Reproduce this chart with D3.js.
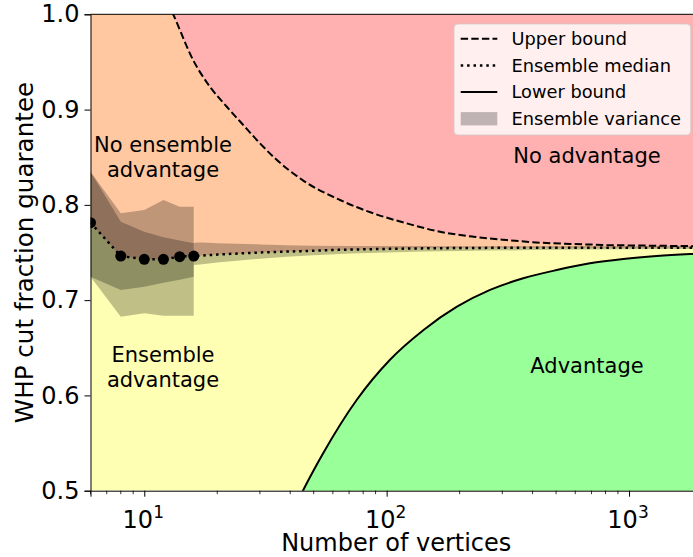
<!DOCTYPE html>
<html>
<head>
<meta charset="utf-8">
<script src="https://cdn.jsdelivr.net/npm/d3@7"></script>
<style>
  body { margin: 0; background: #fff; }
  svg { display: block; font-family: "DejaVu Sans", sans-serif; }
</style>
</head>
<body>
<svg id="chart" width="693" height="557"></svg>
<script>
// ---- sampled ensembles (graph sizes 6..16) ----
const ensembleN       = [6, 8, 10, 12, 14, 16];
const ensembleMedian  = [0.7813, 0.7463, 0.7429, 0.7429, 0.7456, 0.7463];
const ensembleMax     = [0.8348, 0.7911, 0.7946, 0.8051, 0.7981, 0.7981];
const ensembleMin     = [0.7246, 0.6826, 0.6862, 0.6837, 0.6837, 0.6837];
const ensembleSpreadHi = [0.8348, 0.7823, 0.7718, 0.7660, 0.7625, 0.7597];
const ensembleSpreadLo = [0.7246, 0.7106, 0.7141, 0.7183, 0.7215, 0.7246];

// ---- extrapolated ensemble trend for larger graphs ----
const trendN       = [16, 20, 30, 45, 60, 100, 180, 400, 1000, 2000];
const trendMedian  = [0.7463, 0.7478, 0.7500, 0.7515, 0.7526, 0.7538, 0.7546, 0.7550, 0.7551, 0.7551];
const trendBandN   = [16, 17, 20, 30, 50, 100, 200, 500, 1000, 2000];
const trendBandHi  = [0.7600, 0.7604, 0.7598, 0.7585, 0.7572, 0.7568, 0.7566, 0.7565, 0.7565, 0.7565];
const trendBandLo  = [0.7370, 0.7375, 0.7395, 0.7435, 0.7472, 0.7500, 0.7515, 0.7528, 0.7535, 0.7538];

// ---- analytic guarantees ----
const upperN   = [12, 13.16, 15.9, 18.65, 21.9, 25.6, 30.0, 34.6, 45, 64.2, 88.1, 120.9, 166, 227.8, 312.8, 429, 589, 809, 1523, 2000];
const upperVal = [1.022, 1.0, 0.952, 0.924, 0.903, 0.8838, 0.8646, 0.8489, 0.826, 0.8051, 0.7911, 0.7806, 0.7718, 0.7666, 0.7631, 0.7603, 0.7589, 0.7579, 0.7569, 0.7566];
const lowerN   = [40, 45.3, 54.7, 75.2, 103, 142, 195, 267, 366, 503, 690, 947, 1300, 1785, 2000];
const lowerVal = [0.472, 0.5007, 0.5393, 0.5952, 0.6372, 0.6687, 0.6931, 0.7107, 0.7229, 0.7316, 0.7387, 0.7432, 0.7463, 0.7484, 0.7490];

// ---- axes ----
const xMajor = [10, 100, 1000];
const xMajorExp = ["1", "2", "3"];
const xMinor = [6, 7, 8, 9, 20, 30, 40, 50, 60, 70, 80, 90, 200, 300, 400, 500, 600, 700, 800, 900, 2000];
const yTicks = [0.5, 0.6, 0.7, 0.8, 0.9, 1.0];

const legendItems = ["Upper bound", "Ensemble median", "Lower bound", "Ensemble variance"];

const P = { left: 90.5, top: 14.3, right: 702, bottom: 490.7 };
const x = d3.scaleLog().domain([6, 2000]).range([P.left, P.right]);
const y = d3.scaleLinear().domain([0.5, 1.0]).range([P.bottom, P.top]);

const svg = d3.select("#chart");
svg.append("defs").append("clipPath").attr("id", "plotClip")
  .append("rect").attr("x", P.left).attr("y", P.top)
  .attr("width", P.right - P.left).attr("height", P.bottom - P.top);

const plot = svg.append("g").attr("clip-path", "url(#plotClip)");

const zip = (xs, ys) => xs.map((n, i) => [n, ys[i]]);
const lineLin = d3.line().x(d => x(d[0])).y(d => y(d[1]));
const lineMono = d3.line().x(d => x(d[0])).y(d => y(d[1])).curve(d3.curveMonotoneX);

const medianData = zip(ensembleN, ensembleMedian);
const medianTrend = zip(trendN, trendMedian);
const medianPath = lineLin(medianData) + "L" + lineMono(medianTrend).slice(1);

// background regions
plot.append("rect")
  .attr("x", P.left).attr("y", P.top)
  .attr("width", P.right - P.left).attr("height", P.bottom - P.top)
  .attr("fill", "#ffffb3");

// above the ensemble median: no ensemble advantage
plot.append("path")
  .attr("d", medianPath + `L${P.right},${P.top - 5}L${P.left},${P.top - 5}Z`)
  .attr("fill", "#ffc8a0");

// above the upper bound: no advantage
const upper = zip(upperN, upperVal);
plot.append("path")
  .attr("d", d3.area().x(d => x(d[0])).y0(P.top - 5).y1(d => y(d[1])).curve(d3.curveMonotoneX)(upper))
  .attr("fill", "#ffb0b0");

// below the lower bound: advantage
const lower = zip(lowerN, lowerVal);
plot.append("path")
  .attr("d", d3.area().x(d => x(d[0])).y0(P.bottom + 5).y1(d => y(d[1])).curve(d3.curveMonotoneX)(lower))
  .attr("fill", "#99ff99");

// ensemble variance bands
const bandFill = "rgba(0,0,0,0.25)";
const bandLin = d3.area().x(d => x(d.n)).y0(d => y(d.lo)).y1(d => y(d.hi));
const bandMono = d3.area().x(d => x(d.n)).y0(d => y(d.lo)).y1(d => y(d.hi)).curve(d3.curveMonotoneX);

plot.append("path")
  .attr("d", bandLin(ensembleN.map((n, i) => ({ n, lo: ensembleMin[i], hi: ensembleMax[i] }))))
  .attr("fill", bandFill);
plot.append("path")
  .attr("d", bandLin(ensembleN.map((n, i) => ({ n, lo: ensembleSpreadLo[i], hi: ensembleSpreadHi[i] }))))
  .attr("fill", bandFill);
plot.append("path")
  .attr("d", bandMono(trendBandN.map((n, i) => ({ n, lo: trendBandLo[i], hi: trendBandHi[i] }))))
  .attr("fill", bandFill);

// bound curves
plot.append("path").attr("d", lineMono(upper))
  .attr("fill", "none").attr("stroke", "#000").attr("stroke-width", 2)
  .attr("stroke-dasharray", "7.4,3.2");
plot.append("path").attr("d", lineMono(lower))
  .attr("fill", "none").attr("stroke", "#000").attr("stroke-width", 2);

// ensemble median
plot.append("path").attr("d", medianPath)
  .attr("fill", "none").attr("stroke", "#000").attr("stroke-width", 2.5)
  .attr("stroke-dasharray", "2.5,3.9");
plot.selectAll("circle.pt").data(medianData).join("circle")
  .attr("class", "pt")
  .attr("cx", d => x(d[0])).attr("cy", d => y(d[1])).attr("r", 5.5)
  .attr("fill", "#000");

// region labels
const regionLabels = [
  { lines: ["No ensemble", "advantage"], cx: 163, base: 152 },
  { lines: ["Ensemble", "advantage"], cx: 163, base: 362 },
  { lines: ["No advantage"], cx: 587, base: 163 },
  { lines: ["Advantage"], cx: 587, base: 373 }
];
regionLabels.forEach(l => {
  const t = svg.append("text").attr("text-anchor", "middle").attr("font-size", 21).attr("fill", "#000");
  l.lines.forEach((s, i) => {
    t.append("tspan").attr("x", l.cx).attr("y", l.base + i * 24.5).text(s);
  });
});

// spines
svg.append("line").attr("x1", P.left).attr("x2", P.right).attr("y1", P.top).attr("y2", P.top)
  .attr("stroke", "#000").attr("stroke-width", 1);

// y axis
const yAxis = svg.append("g").attr("transform", `translate(${P.left},0)`)
  .call(d3.axisLeft(y).tickValues(yTicks).tickSize(6).tickPadding(5).tickFormat(d3.format(".1f")));
yAxis.select(".domain").attr("stroke", "#000").attr("stroke-width", 1);
yAxis.selectAll(".tick line").attr("stroke", "#000");
yAxis.selectAll(".tick text").attr("font-size", 24).attr("font-family", "DejaVu Sans").attr("fill", "#000");

// x axis
const xAxis = svg.append("g").attr("transform", `translate(0,${P.bottom})`)
  .call(d3.axisBottom(x).tickValues(xMajor).tickSize(6).tickFormat(""));
xAxis.select(".domain").attr("stroke", "#000").attr("stroke-width", 1);
xAxis.selectAll(".tick line").attr("stroke", "#000");
xAxis.selectAll(".minor").data(xMinor).join("line").attr("class", "minor")
  .attr("x1", d => x(d)).attr("x2", d => x(d)).attr("y1", 0).attr("y2", 3.5)
  .attr("stroke", "#000").attr("stroke-width", 0.8);
xMajor.forEach((v, i) => {
  const t = svg.append("text").attr("x", x(v) - 1).attr("y", 528)
    .attr("text-anchor", "middle").attr("font-size", 24).attr("fill", "#000");
  t.append("tspan").text("10");
  t.append("tspan").attr("font-size", 17).attr("dy", -10).text(xMajorExp[i]);
});

// axis titles
svg.append("text").attr("x", (P.left + 702) / 2).attr("y", 551)
  .attr("text-anchor", "middle").attr("font-size", 24).attr("fill", "#000")
  .text("Number of vertices");
svg.append("text")
  .attr("transform", `translate(33,${(P.top + P.bottom) / 2}) rotate(-90)`)
  .attr("text-anchor", "middle").attr("font-size", 24.6).attr("fill", "#000")
  .text("WHP cut fraction guarantee");

// legend
const lg = svg.append("g");
lg.append("rect").attr("x", 454).attr("y", 24).attr("width", 236.7).attr("height", 111)
  .attr("rx", 4).attr("fill", "#fff").attr("fill-opacity", 0.8)
  .attr("stroke", "#ccc").attr("stroke-opacity", 0.8);
const rowBase = [45, 71.7, 98.3, 125];
legendItems.forEach((s, i) => {
  const cy = rowBase[i] - 6.3;
  if (i === 0) {
    lg.append("line").attr("x1", 460.7).attr("x2", 497.3).attr("y1", cy).attr("y2", cy)
      .attr("stroke", "#000").attr("stroke-width", 2).attr("stroke-dasharray", "7.4,3.2");
  } else if (i === 1) {
    lg.append("line").attr("x1", 460.7).attr("x2", 497.3).attr("y1", cy).attr("y2", cy)
      .attr("stroke", "#000").attr("stroke-width", 2.5).attr("stroke-dasharray", "2.5,3.9");
  } else if (i === 2) {
    lg.append("line").attr("x1", 460.7).attr("x2", 497.3).attr("y1", cy).attr("y2", cy)
      .attr("stroke", "#000").attr("stroke-width", 2);
  } else {
    lg.append("rect").attr("x", 460.7).attr("y", cy - 6.6).attr("width", 36.6).attr("height", 13.3)
      .attr("fill", bandFill);
  }
  lg.append("text").attr("x", 511.5).attr("y", rowBase[i]).attr("font-size", 17.8).attr("fill", "#000").text(s);
});
</script>
</body>
</html>
